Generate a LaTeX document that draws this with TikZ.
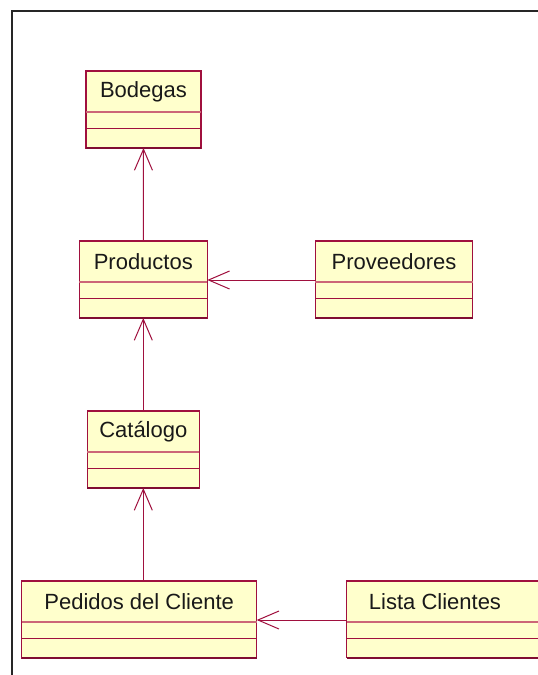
\documentclass[tikz,border=0pt]{standalone}
\usepackage{fontspec}
\setmainfont{Liberation Sans}
\usetikzlibrary{arrows.meta,calc}

\definecolor{classfill}{HTML}{FFFFCC}
\definecolor{classline}{HTML}{A0103E}
\definecolor{classlight}{HTML}{CC6677}

\tikzset{
  classbox/.style={rectangle, draw=classline, fill=classfill, line width=1.2pt,
    minimum height=77pt, inner sep=0pt, outer sep=0pt},
  openbox/.style={fill=classfill, inner sep=0pt, outer sep=0pt, minimum height=77pt},
  namerule/.style={draw=classlight, line width=1.2pt},
  classrule/.style={draw=classline, line width=1pt},
  bottomrule/.style={draw=classline!80!black, line width=2.2pt},
  classname/.style={font=\fontsize{22}{26}\selectfont, text=black!90, inner sep=0pt},
  assoc/.style={draw=classline, line width=1pt,
    -{Straight Barb[length=21pt, width=18pt, line width=1pt]}},
  frameline/.style={draw=black!85, line width=2pt},
}

% class box: name, centre x, top y, width, title
\newcommand{\umlbox}[5]{%
  \node[classbox, minimum width=#4] (#1) at (#2, #3+38.5) {};
  \draw[namerule] ([yshift=-41pt]#1.north west) -- ([yshift=-41pt]#1.north east);
  \draw[classrule] ([yshift=-57pt]#1.north west) -- ([yshift=-57pt]#1.north east);
  \draw[bottomrule] (#1.south west) -- (#1.south east);
  \node[classname] (#1-name) at ([yshift=-20.5pt]#1.north) {#5};
}

\begin{document}
\begin{tikzpicture}[x=1pt, y=-1pt]
  \useasboundingbox (0,0) rectangle (538,675);
  % white sheet, a little larger than the page
  \fill[white] (-3,-3) rectangle (545,680);

  % diagram frame (open to the right and bottom)
  \coordinate (fb) at (12,680);
  \coordinate (fc) at (12,11);
  \coordinate (fr) at (545,11);
  \draw[frameline] (fb) -- (fc) -- (fr);

  % classes
  \umlbox{bod}{143.5}{71}{115}{Bodegas}
  \umlbox{prod}{143.3}{241}{128}{Productos}
  \umlbox{prov}{394}{241}{157.4}{Proveedores}
  \umlbox{cat}{143.3}{411}{112}{Catálogo}
  \umlbox{ped}{139.2}{581}{235}{Pedidos del Cliente}

  % class running past the right edge: drawn without a right side
  \node[openbox, minimum width=200] (lis) at (446.7, 619.5) {};
  \draw[classline, line width=1.2pt] (lis.north east) -- (lis.north west) -- (lis.south west);
  \draw[namerule] ([yshift=-41pt]lis.north west) -- ([yshift=-41pt]lis.north east);
  \draw[classrule] ([yshift=-57pt]lis.north west) -- ([yshift=-57pt]lis.north east);
  \draw[bottomrule] (lis.south west) -- (lis.south east);
  \node[classname] (lis-name) at ([xshift=-11.7pt, yshift=-20.5pt]lis.north) {Lista Clientes};

  % associations
  \draw[assoc] (prod.north) -- (bod.south);
  \draw[assoc] (cat.north) -- (prod.south);
  \draw[assoc] (ped.north -| cat.south) -- (cat.south);
  \draw[assoc] ([yshift=-39pt]prov.north west) -- ([yshift=-39pt]prod.north east);
  \draw[assoc] ([yshift=-39pt]lis.north west) -- ([yshift=-39pt]ped.north east);
\end{tikzpicture}
\end{document}
